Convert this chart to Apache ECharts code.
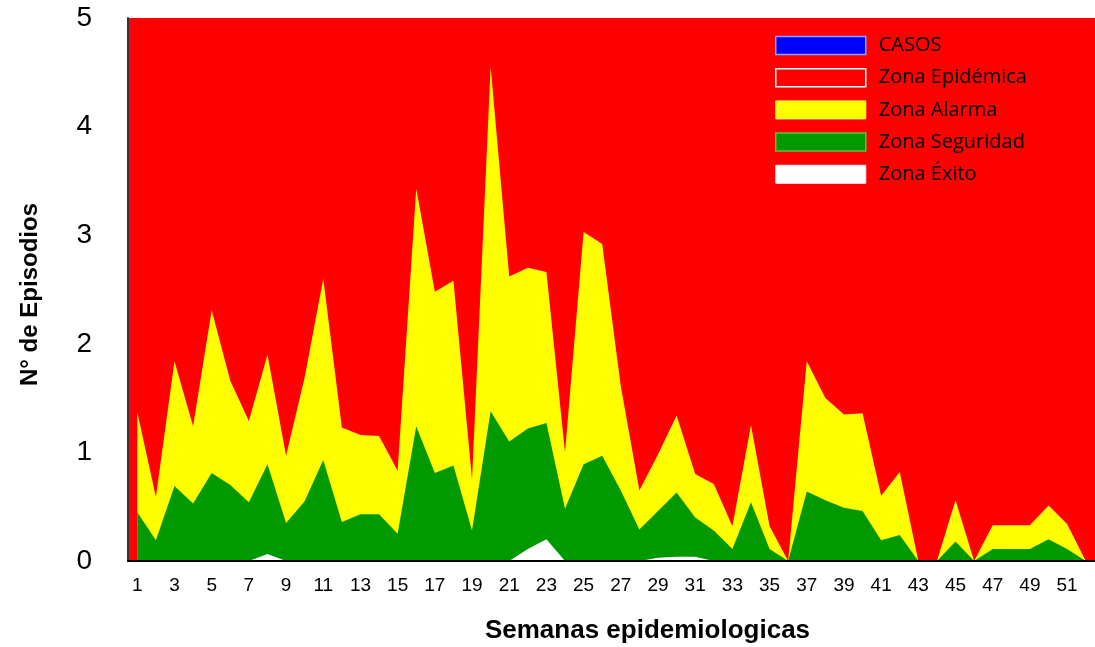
<!DOCTYPE html>
<html><head><meta charset="utf-8">
<script src="https://cdn.jsdelivr.net/npm/echarts@6/dist/echarts.min.js"></script>
<style>html,body{margin:0;padding:0;background:#fff}#c{width:1095px;height:647px}</style>
</head><body><div id="c"></div>
<script>
const semanas = Array.from({length: 52}, (_, i) => String(i + 1));
const casos = [];
const zonaEpidemica = [5,5,5,5,5,5,5,5,5,5,5,5,5,5,5,5,5,5,5,5,5,5,5,5,5,5,5,5,5,5,5,5,5,5,5,5,5,5,5,5,5,5,5,5,5,5,5,5,5,5,5,5];
const zonaAlarma = [1.37,0.59,1.84,1.24,2.31,1.66,1.29,1.90,0.97,1.69,2.60,1.23,1.16,1.15,0.83,3.43,2.48,2.58,0.75,4.55,2.62,2.70,2.66,1.00,3.03,2.92,1.61,0.65,0.98,1.34,0.80,0.71,0.32,1.25,0.32,0,1.84,1.50,1.35,1.36,0.60,0.82,0,0,0.56,0,0.33,0.33,0.33,0.51,0.34,0];
const zonaSeguridad = [0.45,0.19,0.69,0.53,0.81,0.70,0.54,0.89,0.35,0.55,0.93,0.36,0.43,0.43,0.25,1.24,0.81,0.88,0.28,1.38,1.10,1.22,1.27,0.48,0.89,0.97,0.65,0.29,0.46,0.63,0.40,0.28,0.11,0.54,0.11,0,0.64,0.56,0.49,0.46,0.19,0.24,0,0,0.18,0,0.11,0.11,0.11,0.20,0.11,0];
const zonaExito = [0,0,0,0,0,0,0,0.065,0,0,0,0,0,0,0,0,0,0,0,0,0,0.11,0.20,0,0,0,0,0,0.03,0.04,0.04,0,0,0,0,0,0,0,0,0,0,0,0,0,0,0,0,0,0,0,0,0];

const chart = echarts.init(document.getElementById('c'), null, {renderer: 'canvas'});
function area(name, data, color, z) {
  return {name, type: 'line', data, z, symbol: 'none', showSymbol: false,
    lineStyle: {width: 0, color}, itemStyle: {color}, areaStyle: {color, opacity: 1}, animation: false};
}
chart.setOption({
  animation: false,
  grid: {left: 128, right: 0, top: 18, bottom: 86, show: true, backgroundColor: '#ff0000', borderWidth: 0,
         containLabel: false, outerBoundsMode: 'none'},
  legend: {
    orient: 'vertical', left: 770, top: 30, itemWidth: 90, itemHeight: 18, itemGap: 11.2,
    textStyle: {fontFamily: 'Open Sans', fontSize: 20, lineHeight: 18, color: '#000', padding: [3,0,0,8]},
    data: [
      {name: 'CASOS', icon: 'rect', itemStyle: {color: '#0000ff', borderColor: '#7fa6ff', borderWidth: 1.5}},
      {name: 'Zona Epidémica', icon: 'rect', itemStyle: {color: '#ff0000', borderColor: '#ffffff', borderWidth: 1.5}},
      {name: 'Zona Alarma', icon: 'rect', itemStyle: {color: '#ffff00', borderColor: '#ffff66', borderWidth: 1}},
      {name: 'Zona Seguridad', icon: 'rect', itemStyle: {color: '#009900', borderColor: '#66bb44', borderWidth: 1.5}},
      {name: 'Zona Éxito', icon: 'rect', itemStyle: {color: '#ffffff', borderColor: '#f2f2f2', borderWidth: 1}}
    ]
  },
  xAxis: {
    type: 'category', data: semanas, boundaryGap: true, z: 10,
    name: 'Semanas epidemiologicas', nameLocation: 'middle', nameGap: 57,
    nameTextStyle: {fontFamily: 'Liberation Sans', fontWeight: 'bold', fontSize: 26, color: '#000', padding: [0,0,0,72]},
    axisLine: {lineStyle: {color: '#000', width: 2}},
    axisTick: {show: false},
    axisLabel: {interval: 1, fontFamily: 'Liberation Sans Narrow, Liberation Sans', fontSize: 19, color: '#000', margin: 15}
  },
  yAxis: {
    type: 'value', min: 0, max: 5, interval: 1, z: 10,
    name: 'N° de Episodios', nameLocation: 'middle', nameGap: 86, nameRotate: 90,
    nameTextStyle: {fontFamily: 'Liberation Sans', fontWeight: 'bold', fontSize: 24, color: '#000', padding: [0,10,0,0]},
    axisLine: {show: true, lineStyle: {color: '#333', width: 2}},
    axisTick: {show: false},
    splitLine: {show: false},
    axisLabel: {fontFamily: 'Liberation Sans', fontSize: 28, color: '#000', margin: 36}
  },
  series: [
    {name: 'CASOS', type: 'line', data: casos, itemStyle: {color: '#0000ff'}, lineStyle: {color: '#0000ff'}, symbol: 'none', z: 6},
    area('Zona Epidémica', zonaEpidemica, '#ff0000', 2),
    area('Zona Alarma', zonaAlarma, '#ffff00', 3),
    area('Zona Seguridad', zonaSeguridad, '#009900', 4),
    area('Zona Éxito', zonaExito, '#ffffff', 5)
  ]
});
</script></body></html>
